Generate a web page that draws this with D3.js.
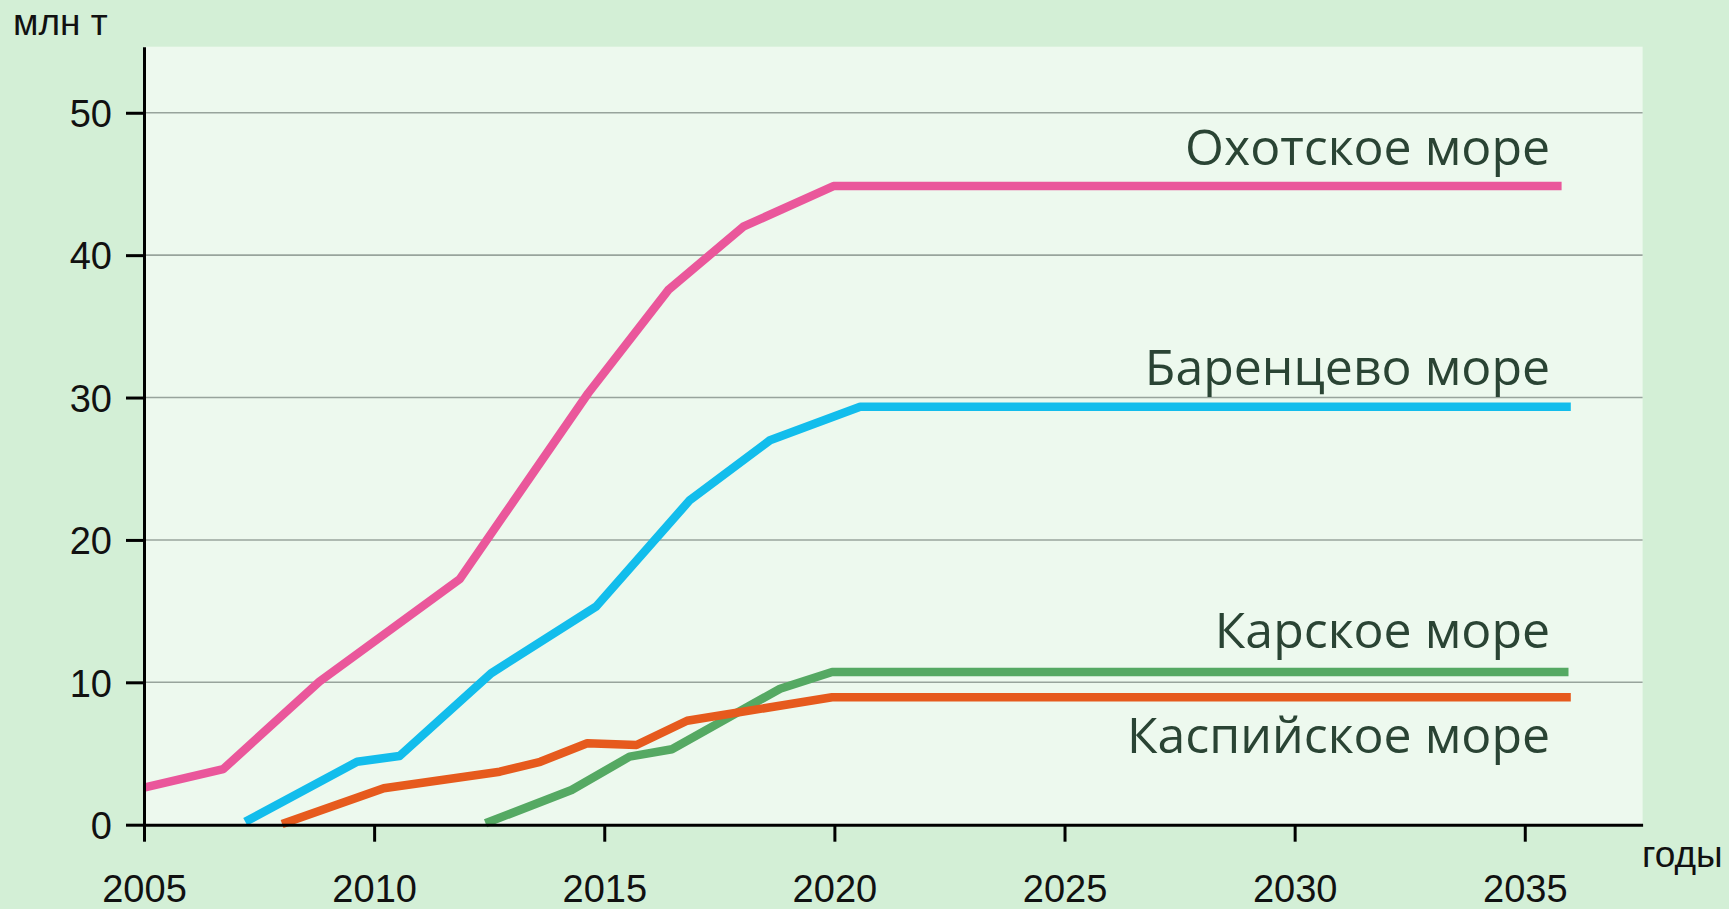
<!DOCTYPE html>
<html>
<head>
<meta charset="utf-8">
<script src="https://cdn.jsdelivr.net/npm/d3@7"></script>
<style>
    body { margin: 0; background: #d3efd6; }
    svg { display: block; }
    .tick text { font-family: "Liberation Sans", Arial, sans-serif; font-size: 38px; fill: #111; }
    .sea-label { font-family: "Open Sans", sans-serif; font-size: 50px; fill: #2a4434; }
    .unit { font-family: "Liberation Sans", Arial, sans-serif; font-size: 37px; fill: #111; }
</style>
</head>
<body>
<div id="chart"></div>
<script>
// data
const seas = ['Охотское море', 'Баренцево море', 'Карское море', 'Каспийское море'];
const okhotskYears = [2005, 2006.72, 2008.81, 2011.86, 2014.65, 2016.39, 2018.02, 2019.98, 2035.8];
const okhotskValues = [2.6, 3.9, 10.05, 17.25, 30.3, 37.55, 42.0, 44.85, 44.85];
const barentsYears = [2007.2, 2009.63, 2010.55, 2012.54, 2014.82, 2016.86, 2018.6, 2020.56, 2036.0];
const barentsValues = [0.2, 4.42, 4.82, 10.63, 15.31, 22.8, 27.0, 29.35, 29.35];
const karaYears = [2012.42, 2014.29, 2015.55, 2016.47, 2018.82, 2019.95, 2035.95];
const karaValues = [0.1, 2.44, 4.78, 5.3, 9.55, 10.72, 10.72];
const caspianYears = [2008.0, 2010.21, 2012.73, 2013.61, 2014.63, 2015.7, 2016.8, 2019.95, 2036.0];
const caspianValues = [0.05, 2.56, 3.72, 4.42, 5.72, 5.6, 7.3, 8.95, 8.95];
const yTicks = [0, 10, 20, 30, 40, 50];
const xTicks = [2005, 2010, 2015, 2020, 2025, 2030, 2035];

const svgWidth = 1729;
const svgHeight = 909;

const x0 = 144, xRight = 1642.6;
const yTop = 46.7, yBottom = 824.7;

const svg = d3.select('#chart')
    .append('svg')
    .attr('width', svgWidth)
    .attr('height', svgHeight);

const xScale = d3.scaleLinear()
    .domain([2005, 2037.56])
    .range([x0, xRight]);

const yScale = d3.scaleLinear()
    .domain([0, 54.64])
    .range([yBottom, yTop]);

// plot background
svg.append('rect')
    .attr('x', x0)
    .attr('y', yTop)
    .attr('width', xRight - x0)
    .attr('height', yBottom - yTop)
    .attr('fill', '#edf9ee');

// gridlines
svg.append('g')
    .selectAll('line')
    .data(yTicks.slice(1))
    .enter()
    .append('line')
    .attr('x1', x0)
    .attr('x2', xRight)
    .attr('y1', d => yScale(d))
    .attr('y2', d => yScale(d))
    .attr('stroke', '#98a49c')
    .attr('stroke-width', 1.6);

// lines
const series = [
    { name: seas[0], years: okhotskYears, values: okhotskValues, color: '#ea579b', dy: -21 },
    { name: seas[1], years: barentsYears, values: barentsValues, color: '#12bdec', dy: -22 },
    { name: seas[2], years: karaYears, values: karaValues, color: '#55a963', dy: -24 },
    { name: seas[3], years: caspianYears, values: caspianValues, color: '#e65a1d', dy: 56 }
];

const line = d3.line()
    .x(d => xScale(d[0]))
    .y(d => yScale(d[1]));

svg.append('g')
    .selectAll('path')
    .data(series)
    .enter()
    .append('path')
    .attr('d', s => line(s.years.map((yr, i) => [yr, s.values[i]])))
    .attr('fill', 'none')
    .attr('stroke', s => s.color)
    .attr('stroke-width', 8.5)
    .attr('stroke-linejoin', 'round');

// sea labels
svg.append('g')
    .selectAll('text')
    .data(series)
    .enter()
    .append('text')
    .classed('sea-label', true)
    .attr('x', xScale(2035.55))
    .attr('y', s => yScale(s.values[s.values.length - 1]) + s.dy)
    .attr('text-anchor', 'end')
    .text(s => s.name);

// axes
const leftAxis = d3.axisLeft(yScale)
    .tickValues(yTicks)
    .tickSize(18)
    .tickSizeOuter(0)
    .tickPadding(14);

const bottomAxis = d3.axisBottom(xScale)
    .tickValues(xTicks)
    .tickFormat(d3.format('d'))
    .tickSize(17)
    .tickSizeOuter(0)
    .tickPadding(33);

const yAxisG = svg.append('g')
    .attr('transform', `translate(${x0}, 0)`)
    .call(leftAxis);

const xAxisG = svg.append('g')
    .attr('transform', `translate(0, ${yBottom})`)
    .call(bottomAxis);

[yAxisG, xAxisG].forEach(g => {
    g.select('.domain').attr('stroke', '#000').attr('stroke-width', 3);
    g.selectAll('.tick line').attr('stroke', '#000').attr('stroke-width', 3);
    g.attr('font-family', null).attr('font-size', null);
});

yAxisG.selectAll('.tick text').attr('dy', '0.36em');

// units
svg.append('text')
    .classed('unit', true)
    .attr('x', 13)
    .attr('y', 35)
    .text('млн т');

svg.append('text')
    .classed('unit', true)
    .attr('x', 1642)
    .attr('y', 867)
    .text('годы');
</script>
</body>
</html>
